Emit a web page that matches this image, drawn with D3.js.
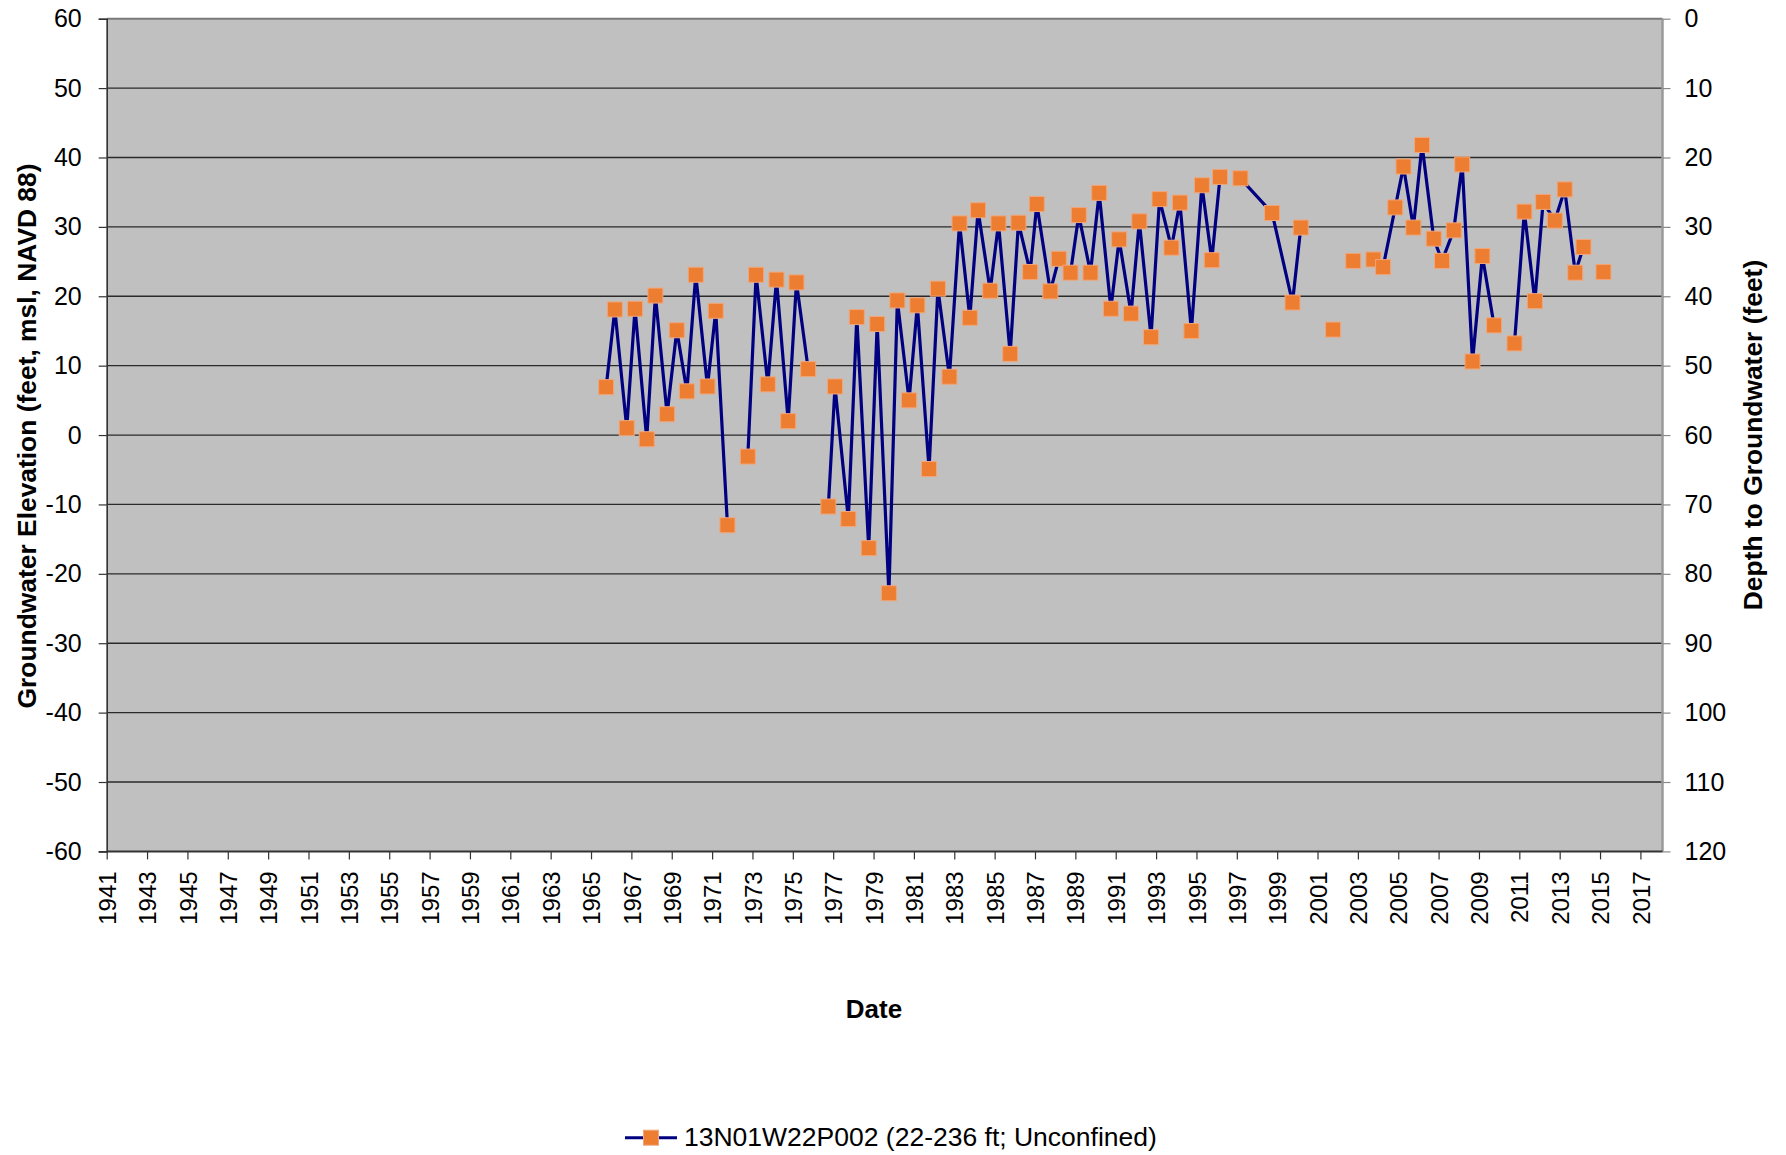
<!DOCTYPE html>
<html>
<head>
<meta charset="utf-8">
<script src="https://cdn.jsdelivr.net/npm/d3@7"></script>
<style>
  html, body { margin: 0; padding: 0; background: #ffffff; }
  svg { display: block; }
  text { font-family: "Liberation Sans", Arial, sans-serif; fill: #000; }
</style>
</head>
<body>
<svg id="chart" width="1786" height="1155"></svg>
<script>
// ---- Data (decimal year, groundwater elevation in feet msl) ----
const dates = [
  1965.75, 1966.18, 1966.77, 1967.18, 1967.76, 1968.19, 1968.77, 1969.25, 1969.75, 1970.19,
  1970.77, 1971.18, 1971.76, 1972.77, 1973.18, 1973.76, 1974.19, 1974.77, 1975.18, 1975.76,
  1976.76, 1977.09, 1977.75, 1978.17, 1978.76, 1979.18, 1979.76, 1980.18, 1980.76, 1981.17,
  1981.75, 1982.19, 1982.76, 1983.26, 1983.77, 1984.18, 1984.78, 1985.19, 1985.77, 1986.18,
  1986.76, 1987.09, 1987.76, 1988.18, 1988.76, 1989.17, 1989.75, 1990.18, 1990.76, 1991.17,
  1991.76, 1992.17, 1992.75, 1993.17, 1993.76, 1994.18, 1994.75, 1995.27, 1995.76, 1996.17,
  1997.18, 1998.75, 1999.76, 2000.17, 2001.77, 2002.77, 2003.77, 2004.25, 2004.85, 2005.26,
  2005.75, 2006.18, 2006.76, 2007.17, 2007.75, 2008.17, 2008.68, 2009.17, 2009.75, 2010.76,
  2011.25, 2011.77, 2012.18, 2012.76, 2013.25, 2013.77, 2014.18, 2015.17
];
const elevation = [
  6.9, 18.1, 1.0, 18.2, -0.6, 20.1, 3.0, 15.1, 6.3, 23.1,
  7.0, 17.9, -13.0, -3.1, 23.1, 7.3, 22.4, 2.0, 22.0, 9.5,
  -10.3, 7.0, -12.1, 17.0, -16.3, 16.0, -22.8, 19.4, 5.0, 18.7,
  -4.9, 21.1, 8.4, 30.5, 16.9, 32.4, 20.8, 30.5, 11.7, 30.6,
  23.5, 33.3, 20.7, 25.4, 23.4, 31.7, 23.4, 34.9, 18.2, 28.2,
  17.5, 30.8, 14.1, 34.0, 27.0, 33.5, 15.0, 36.0, 25.2, 37.2,
  37.0, 32.0, 19.1, 29.9, 15.2, 25.1, 25.3, 24.2, 32.8, 38.7,
  29.9, 41.8, 28.3, 25.1, 29.5, 39.0, 10.6, 25.8, 15.8, 13.2,
  32.2, 19.3, 33.6, 30.9, 35.4, 23.4, 27.1, 23.5
];
// dates after which the connecting line is interrupted
const breakAfter = [1971.76, 1975.76, 1996.17, 2000.17, 2001.77, 2002.77, 2003.77, 2009.75, 2014.18];

// ---- Axes ticks / labels ----
const yTicksLeft = [-60, -50, -40, -30, -20, -10, 0, 10, 20, 30, 40, 50, 60];
const yTicksRight = [0, 10, 20, 30, 40, 50, 60, 70, 80, 90, 100, 110, 120];
const xTickYears = d3.range(1941, 2018, 2);
const seriesName = "13N01W22P002 (22-236 ft; Unconfined)";
const leftTitle = "Groundwater Elevation (feet, msl, NAVD 88)";
const rightTitle = "Depth to Groundwater (feet)";
const xTitle = "Date";

// ---- Layout ----
const plot = { left: 106.7, right: 1662.5, top: 18.7, bottom: 851.4 };
const svg = d3.select("#chart");
const plain = d => String(d);

const x = d3.scaleLinear().domain([1941, 2018.095]).range([plot.left, plot.right]);
const y = d3.scaleLinear().domain([-60, 60]).range([plot.bottom, plot.top]);
const yR = d3.scaleLinear().domain([120, 0]).range([plot.bottom, plot.top]);

// background
svg.append("rect")
  .attr("x", plot.left).attr("y", plot.top)
  .attr("width", plot.right - plot.left).attr("height", plot.bottom - plot.top)
  .attr("fill", "#C0C0C0");

// gridlines
svg.append("g").selectAll("line")
  .data(yTicksLeft.filter(v => v > -60 && v < 60))
  .join("line")
  .attr("x1", plot.left).attr("x2", plot.right)
  .attr("y1", d => y(d)).attr("y2", d => y(d))
  .attr("stroke", "#2a2a2a").attr("stroke-width", 1.3);

// frame
svg.append("line").attr("x1", plot.left).attr("x2", plot.right)
  .attr("y1", plot.top).attr("y2", plot.top)
  .attr("stroke", "#7a7a7a").attr("stroke-width", 2);
svg.append("line").attr("x1", plot.right).attr("x2", plot.right)
  .attr("y1", plot.top).attr("y2", plot.bottom)
  .attr("stroke", "#9a9a9a").attr("stroke-width", 2.5);

// left axis
const gL = svg.append("g").attr("transform", `translate(${plot.left},0)`)
  .call(d3.axisLeft(y).tickValues(yTicksLeft).tickSize(8).tickPadding(17).tickFormat(plain));
gL.select(".domain").attr("stroke", "#333").attr("stroke-width", 1.6);
gL.selectAll(".tick line").attr("stroke", "#333").attr("stroke-width", 1.2);
gL.selectAll(".tick text").style("font-size", "25px").attr("font-family", "Liberation Sans, Arial, sans-serif").attr("fill", "#000");

// right axis
const gR = svg.append("g").attr("transform", `translate(${plot.right},0)`)
  .call(d3.axisRight(yR).tickValues(yTicksRight).tickSize(8).tickPadding(14).tickFormat(plain));
gR.select(".domain").remove();
gR.selectAll(".tick line").attr("stroke", "#8a8a8a").attr("stroke-width", 1.2);
gR.selectAll(".tick text").style("font-size", "25px").attr("font-family", "Liberation Sans, Arial, sans-serif").attr("fill", "#000");

// bottom axis
const gB = svg.append("g").attr("transform", `translate(0,${plot.bottom})`)
  .call(d3.axisBottom(x).tickValues(xTickYears).tickSize(8).tickFormat(plain));
gB.select(".domain").attr("stroke", "#333").attr("stroke-width", 2).attr("d", `M${plot.left},0H${plot.right}`);
gB.selectAll(".tick line").attr("stroke", "#333").attr("stroke-width", 1.2);
gB.selectAll(".tick text")
  .style("font-size", "24px").attr("font-family", "Liberation Sans, Arial, sans-serif").attr("fill", "#000")
  .attr("text-anchor", "end")
  .attr("transform", "rotate(-90)")
  .attr("x", -20).attr("y", 0).attr("dy", "0.36em");

// ---- series ----
const pts = dates.map((d, i) => ({ d, v: elevation[i] }));
const segments = [];
let cur = [];
pts.forEach(p => {
  cur.push(p);
  if (breakAfter.includes(p.d)) { segments.push(cur); cur = []; }
});
if (cur.length) segments.push(cur);

const line = d3.line().x(p => x(p.d)).y(p => y(p.v));
svg.append("g").selectAll("path")
  .data(segments.filter(s => s.length > 1))
  .join("path")
  .attr("d", line)
  .attr("fill", "none")
  .attr("stroke", "#000080")
  .attr("stroke-width", 3.2)
  .attr("stroke-linejoin", "miter");

const ms = 15;
svg.append("g").selectAll("rect")
  .data(pts)
  .join("rect")
  .attr("x", p => x(p.d) - ms / 2)
  .attr("y", p => y(p.v) - ms / 2)
  .attr("width", ms).attr("height", ms)
  .attr("fill", "#ED7D31")
  .attr("stroke", "#F0A67A").attr("stroke-width", 1);

// ---- titles ----
svg.append("text")
  .attr("transform", `translate(35.5,436) rotate(-90)`)
  .attr("text-anchor", "middle")
  .style("font-size", "26.4px").style("font-weight", "bold")
  .text(leftTitle);

svg.append("text")
  .attr("transform", `translate(1762,435) rotate(-90)`)
  .attr("text-anchor", "middle")
  .style("font-size", "26.4px").style("font-weight", "bold")
  .text(rightTitle);

svg.append("text")
  .attr("x", 874).attr("y", 1018)
  .attr("text-anchor", "middle")
  .style("font-size", "26px").style("font-weight", "bold")
  .text(xTitle);

// ---- legend ----
const lg = svg.append("g");
lg.append("line").attr("x1", 625).attr("x2", 677).attr("y1", 1137.7).attr("y2", 1137.7)
  .attr("stroke", "#000080").attr("stroke-width", 3);
lg.append("rect").attr("x", 651 - ms / 2).attr("y", 1137.7 - ms / 2)
  .attr("width", ms).attr("height", ms)
  .attr("fill", "#ED7D31").attr("stroke", "#F0A67A").attr("stroke-width", 1);
lg.append("text").attr("x", 684).attr("y", 1145.7)
  .style("font-size", "26.5px")
  .text(seriesName);
</script>
</body>
</html>
